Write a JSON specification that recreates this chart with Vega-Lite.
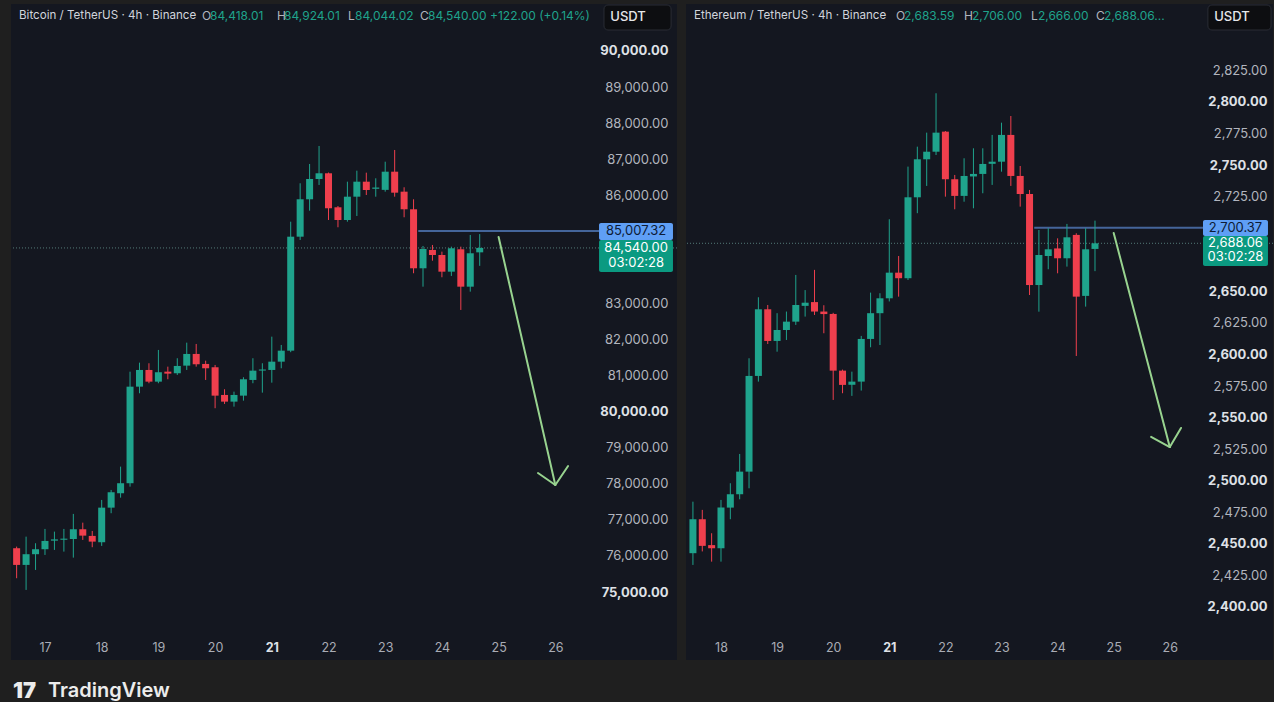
{
"$schema": "https://vega.github.io/schema/vega-lite/v6.json",
"background": "#1f1f1f",
"padding": {"left": 10, "top": 4, "right": 0, "bottom": 0},
"spacing": 7,
"config": {
  "view": {"fill": "#141720", "stroke": null},
  "font": "Inter",
  "scale": {"continuousPadding": 0},
  "axis": {"domain": false, "ticks": false, "tickSize": 0, "grid": false, "title": null, "labelFont": "Inter", "labelFontSize": 13, "labelColor": "#b2b5be", "labelFlush": false, "labelOverlap": false, "labelBound": false},
  "style": {
    "hdr": {"align": "left", "baseline": "middle", "fontSize": 12, "font": "Inter"},
    "lbl": {"align": "center", "baseline": "middle", "fontSize": 13, "font": "Inter"}
  }
},
"datasets": {
  "btc": [
    {"t": "2025-03-16T12:00:00Z", "o": 76215, "h": 76260, "l": 75383, "c": 75752},
    {"t": "2025-03-16T16:00:00Z", "o": 75752, "h": 76536, "l": 75059, "c": 76049},
    {"t": "2025-03-16T20:00:00Z", "o": 76049, "h": 76353, "l": 75613, "c": 76187},
    {"t": "2025-03-17T00:00:00Z", "o": 76187, "h": 76750, "l": 76029, "c": 76417},
    {"t": "2025-03-17T04:00:00Z", "o": 76425, "h": 76675, "l": 76168, "c": 76460},
    {"t": "2025-03-17T08:00:00Z", "o": 76450, "h": 76750, "l": 76121, "c": 76480},
    {"t": "2025-03-17T12:00:00Z", "o": 76470, "h": 77166, "l": 75954, "c": 76741},
    {"t": "2025-03-17T16:00:00Z", "o": 76741, "h": 76924, "l": 76445, "c": 76564},
    {"t": "2025-03-17T20:00:00Z", "o": 76556, "h": 76694, "l": 76243, "c": 76398},
    {"t": "2025-03-18T00:00:00Z", "o": 76381, "h": 77554, "l": 76279, "c": 77340},
    {"t": "2025-03-18T04:00:00Z", "o": 77340, "h": 77831, "l": 77185, "c": 77767},
    {"t": "2025-03-18T08:00:00Z", "o": 77739, "h": 78477, "l": 77617, "c": 78017},
    {"t": "2025-03-18T12:00:00Z", "o": 78017, "h": 81110, "l": 77922, "c": 80694},
    {"t": "2025-03-18T16:00:00Z", "o": 80694, "h": 81360, "l": 80511, "c": 81157},
    {"t": "2025-03-18T20:00:00Z", "o": 81157, "h": 81343, "l": 80789, "c": 80833},
    {"t": "2025-03-19T00:00:00Z", "o": 80833, "h": 81712, "l": 80789, "c": 81094},
    {"t": "2025-03-19T04:00:00Z", "o": 81110, "h": 81249, "l": 80899, "c": 81055},
    {"t": "2025-03-19T08:00:00Z", "o": 81066, "h": 81482, "l": 81019, "c": 81268},
    {"t": "2025-03-19T12:00:00Z", "o": 81277, "h": 81914, "l": 81157, "c": 81601},
    {"t": "2025-03-19T16:00:00Z", "o": 81601, "h": 81878, "l": 81249, "c": 81315},
    {"t": "2025-03-19T20:00:00Z", "o": 81324, "h": 81415, "l": 80880, "c": 81204},
    {"t": "2025-03-20T00:00:00Z", "o": 81232, "h": 81296, "l": 80096, "c": 80445},
    {"t": "2025-03-20T04:00:00Z", "o": 80464, "h": 80622, "l": 80215, "c": 80279},
    {"t": "2025-03-20T08:00:00Z", "o": 80279, "h": 80556, "l": 80140, "c": 80464},
    {"t": "2025-03-20T12:00:00Z", "o": 80445, "h": 80955, "l": 80306, "c": 80899},
    {"t": "2025-03-20T16:00:00Z", "o": 80880, "h": 81482, "l": 80789, "c": 81138},
    {"t": "2025-03-20T20:00:00Z", "o": 81140, "h": 81343, "l": 80528, "c": 81170},
    {"t": "2025-03-21T00:00:00Z", "o": 81157, "h": 82080, "l": 80805, "c": 81387},
    {"t": "2025-03-21T04:00:00Z", "o": 81387, "h": 81850, "l": 81204, "c": 81692},
    {"t": "2025-03-21T08:00:00Z", "o": 81692, "h": 85268, "l": 81650, "c": 84852},
    {"t": "2025-03-21T12:00:00Z", "o": 84852, "h": 86333, "l": 84761, "c": 85889},
    {"t": "2025-03-21T16:00:00Z", "o": 85889, "h": 86868, "l": 85573, "c": 86452},
    {"t": "2025-03-21T20:00:00Z", "o": 86452, "h": 87367, "l": 86286, "c": 86610},
    {"t": "2025-03-22T00:00:00Z", "o": 86610, "h": 86630, "l": 85315, "c": 85640},
    {"t": "2025-03-22T04:00:00Z", "o": 85667, "h": 85703, "l": 85113, "c": 85315},
    {"t": "2025-03-22T08:00:00Z", "o": 85315, "h": 86377, "l": 85268, "c": 85961},
    {"t": "2025-03-22T12:00:00Z", "o": 85961, "h": 86682, "l": 85426, "c": 86377},
    {"t": "2025-03-22T16:00:00Z", "o": 86377, "h": 86627, "l": 86008, "c": 86147},
    {"t": "2025-03-22T20:00:00Z", "o": 86180, "h": 86471, "l": 85961, "c": 86215},
    {"t": "2025-03-23T00:00:00Z", "o": 86150, "h": 86931, "l": 86100, "c": 86654},
    {"t": "2025-03-23T04:00:00Z", "o": 86654, "h": 87256, "l": 85961, "c": 86072},
    {"t": "2025-03-23T08:00:00Z", "o": 86100, "h": 86222, "l": 85390, "c": 85612},
    {"t": "2025-03-23T12:00:00Z", "o": 85612, "h": 85889, "l": 83838, "c": 83976},
    {"t": "2025-03-23T16:00:00Z", "o": 83976, "h": 84595, "l": 83466, "c": 84511},
    {"t": "2025-03-23T20:00:00Z", "o": 84484, "h": 84622, "l": 84187, "c": 84345},
    {"t": "2025-03-24T00:00:00Z", "o": 84345, "h": 84437, "l": 83727, "c": 83882},
    {"t": "2025-03-24T04:00:00Z", "o": 83882, "h": 84576, "l": 83763, "c": 84531},
    {"t": "2025-03-24T08:00:00Z", "o": 84503, "h": 84576, "l": 82821, "c": 83466},
    {"t": "2025-03-24T12:00:00Z", "o": 83466, "h": 84900, "l": 83328, "c": 84392},
    {"t": "2025-03-24T16:00:00Z", "o": 84418.01, "h": 84924.01, "l": 84044.02, "c": 84540.00}
  ],
  "eth": [
    {"t": "2025-03-17T12:00:00Z", "o": 2442.6, "h": 2483.4, "l": 2433.3, "c": 2469.5},
    {"t": "2025-03-17T16:00:00Z", "o": 2469.5, "h": 2476.9, "l": 2444.0, "c": 2448.4},
    {"t": "2025-03-17T20:00:00Z", "o": 2449.0, "h": 2458.4, "l": 2435.9, "c": 2446.5},
    {"t": "2025-03-18T00:00:00Z", "o": 2446.5, "h": 2484.8, "l": 2435.9, "c": 2478.7},
    {"t": "2025-03-18T04:00:00Z", "o": 2478.7, "h": 2498.0, "l": 2469.5, "c": 2489.3},
    {"t": "2025-03-18T08:00:00Z", "o": 2489.3, "h": 2521.2, "l": 2485.3, "c": 2507.2},
    {"t": "2025-03-18T12:00:00Z", "o": 2507.2, "h": 2597.0, "l": 2494.0, "c": 2583.0},
    {"t": "2025-03-18T16:00:00Z", "o": 2583.0, "h": 2645.3, "l": 2578.5, "c": 2635.8},
    {"t": "2025-03-18T20:00:00Z", "o": 2635.8, "h": 2639.2, "l": 2608.3, "c": 2610.7},
    {"t": "2025-03-19T00:00:00Z", "o": 2610.7, "h": 2632.7, "l": 2602.2, "c": 2619.4},
    {"t": "2025-03-19T04:00:00Z", "o": 2619.4, "h": 2634.0, "l": 2611.5, "c": 2626.0},
    {"t": "2025-03-19T08:00:00Z", "o": 2626.0, "h": 2663.0, "l": 2623.4, "c": 2639.2},
    {"t": "2025-03-19T12:00:00Z", "o": 2638.5, "h": 2651.0, "l": 2630.0, "c": 2641.0},
    {"t": "2025-03-19T16:00:00Z", "o": 2641.5, "h": 2667.0, "l": 2631.3, "c": 2634.0},
    {"t": "2025-03-19T20:00:00Z", "o": 2634.0, "h": 2639.0, "l": 2616.8, "c": 2632.0},
    {"t": "2025-03-20T00:00:00Z", "o": 2632.1, "h": 2633.0, "l": 2564.0, "c": 2587.2},
    {"t": "2025-03-20T04:00:00Z", "o": 2587.2, "h": 2588.0, "l": 2569.3, "c": 2575.9},
    {"t": "2025-03-20T08:00:00Z", "o": 2576.0, "h": 2586.4, "l": 2567.2, "c": 2578.5},
    {"t": "2025-03-20T12:00:00Z", "o": 2578.5, "h": 2614.7, "l": 2571.4, "c": 2612.3},
    {"t": "2025-03-20T16:00:00Z", "o": 2612.3, "h": 2649.0, "l": 2605.7, "c": 2632.7},
    {"t": "2025-03-20T20:00:00Z", "o": 2632.7, "h": 2648.5, "l": 2607.5, "c": 2644.5},
    {"t": "2025-03-21T00:00:00Z", "o": 2644.5, "h": 2707.1, "l": 2642.0, "c": 2664.8},
    {"t": "2025-03-21T04:00:00Z", "o": 2664.8, "h": 2678.0, "l": 2645.8, "c": 2660.4},
    {"t": "2025-03-21T08:00:00Z", "o": 2660.4, "h": 2748.8, "l": 2659.0, "c": 2724.5},
    {"t": "2025-03-21T12:00:00Z", "o": 2724.5, "h": 2764.6, "l": 2711.9, "c": 2754.6},
    {"t": "2025-03-21T16:00:00Z", "o": 2754.6, "h": 2775.7, "l": 2733.5, "c": 2760.6},
    {"t": "2025-03-21T20:00:00Z", "o": 2760.6, "h": 2806.9, "l": 2758.0, "c": 2775.7},
    {"t": "2025-03-22T00:00:00Z", "o": 2776.5, "h": 2777.0, "l": 2725.0, "c": 2738.8},
    {"t": "2025-03-22T04:00:00Z", "o": 2738.8, "h": 2742.2, "l": 2715.0, "c": 2725.6},
    {"t": "2025-03-22T08:00:00Z", "o": 2725.6, "h": 2755.4, "l": 2721.0, "c": 2741.4},
    {"t": "2025-03-22T12:00:00Z", "o": 2741.0, "h": 2763.3, "l": 2715.8, "c": 2743.0},
    {"t": "2025-03-22T16:00:00Z", "o": 2743.0, "h": 2763.3, "l": 2727.7, "c": 2750.9},
    {"t": "2025-03-22T20:00:00Z", "o": 2751.0, "h": 2773.9, "l": 2734.3, "c": 2752.7},
    {"t": "2025-03-23T00:00:00Z", "o": 2752.7, "h": 2783.6, "l": 2744.8, "c": 2773.9},
    {"t": "2025-03-23T04:00:00Z", "o": 2773.9, "h": 2788.9, "l": 2733.5, "c": 2741.4},
    {"t": "2025-03-23T08:00:00Z", "o": 2741.4, "h": 2749.3, "l": 2717.1, "c": 2727.1},
    {"t": "2025-03-23T12:00:00Z", "o": 2727.1, "h": 2730.3, "l": 2647.1, "c": 2655.0},
    {"t": "2025-03-23T16:00:00Z", "o": 2655.0, "h": 2698.6, "l": 2633.9, "c": 2678.8},
    {"t": "2025-03-23T20:00:00Z", "o": 2678.0, "h": 2700.0, "l": 2667.5, "c": 2683.3},
    {"t": "2025-03-24T00:00:00Z", "o": 2684.0, "h": 2692.0, "l": 2664.3, "c": 2676.2},
    {"t": "2025-03-24T04:00:00Z", "o": 2676.2, "h": 2703.4, "l": 2669.6, "c": 2692.8},
    {"t": "2025-03-24T08:00:00Z", "o": 2694.7, "h": 2696.0, "l": 2598.8, "c": 2645.8},
    {"t": "2025-03-24T12:00:00Z", "o": 2646.4, "h": 2700.0, "l": 2637.9, "c": 2683.3},
    {"t": "2025-03-24T16:00:00Z", "o": 2683.59, "h": 2706.00, "l": 2666.00, "c": 2688.06}
  ]
},
"hconcat": [
  {
    "width": 666, "height": 656,
    "layer": [
      {"data": {"values": [{}]}, "mark": {"type": "rule", "color": "#5f8c87", "strokeDash": [1, 2], "opacity": 0.85},
       "encoding": {"y": {"datum": 84540}}},
      {"data": {"values": [{}]}, "mark": {"type": "rule", "color": "#44659a", "strokeWidth": 2},
       "encoding": {"x": {"datum": {"year": 2025, "month": 3, "date": 23, "hours": 14, "utc": true}}, "x2": {"datum": {"year": 2025, "month": 3, "date": 26, "hours": 18, "minutes": 30, "utc": true}}, "y": {"datum": 85007.32}}},
      {"data": {"name": "btc"}, "mark": {"type": "rule", "strokeWidth": 1},
       "encoding": {
         "x": {"field": "t", "type": "temporal",
               "scale": {"type": "utc", "padding": 0, "domain": [{"year": 2025, "month": 3, "date": 16, "hours": 9, "minutes": 37, "utc": true}, {"year": 2025, "month": 3, "date": 28, "hours": 3, "minutes": 30, "utc": true}]},
               "axis": {"orient": "bottom", "labelOverlap": false, "values": [
                 {"year": 2025, "month": 3, "date": 17, "utc": true}, {"year": 2025, "month": 3, "date": 18, "utc": true}, {"year": 2025, "month": 3, "date": 19, "utc": true}, {"year": 2025, "month": 3, "date": 20, "utc": true}, {"year": 2025, "month": 3, "date": 21, "utc": true}, {"year": 2025, "month": 3, "date": 22, "utc": true}, {"year": 2025, "month": 3, "date": 23, "utc": true}, {"year": 2025, "month": 3, "date": 24, "utc": true}, {"year": 2025, "month": 3, "date": 25, "utc": true}, {"year": 2025, "month": 3, "date": 26, "utc": true}],
                 "labelExpr": "utcFormat(datum.value, '%d')", "labelBaseline": "middle", "labelPadding": -13, "labelFontSize": 12.5,
                 "labelFontWeight": {"condition": {"test": "utcdate(datum.value) == 21", "value": "bold"}, "value": "normal"},
                 "labelColor": {"condition": {"test": "utcdate(datum.value) == 21", "value": "#dfe1e6"}, "value": "#a9acb5"}}},
         "y": {"field": "l", "type": "quantitative",
               "scale": {"domain": [73116, 91303], "nice": false, "zero": false, "padding": 0},
               "axis": {"orient": "right", "labelOverlap": false, "values": [75000, 76000, 77000, 78000, 79000, 80000, 81000, 82000, 83000, 86000, 87000, 88000, 89000, 90000],
                 "format": ",.2f", "labelAlign": "right", "labelPadding": -9,
                 "labelFontWeight": {"condition": {"test": "datum.value % 5000 == 0", "value": "bold"}, "value": "normal"},
                 "labelColor": {"condition": {"test": "datum.value % 5000 == 0", "value": "#dfe1e6"}, "value": "#b2b5be"}}},
         "y2": {"field": "h"},
         "color": {"condition": {"test": "datum.c >= datum.o", "value": "#1fa38c"}, "value": "#ef3f4d"}
       }},
      {"data": {"name": "btc"}, "mark": {"type": "bar", "size": 7},
       "encoding": {
         "x": {"field": "t", "type": "temporal"},
         "y": {"field": "o", "type": "quantitative"},
         "y2": {"field": "c"},
         "color": {"condition": {"test": "datum.c >= datum.o", "value": "#1fa38c"}, "value": "#ef3f4d"}
       }},
      {"data": {"values": [{}]}, "mark": {"type": "rule", "color": "#98d38f", "strokeWidth": 2, "strokeCap": "round"},
       "encoding": {"x": {"datum": {"year": 2025, "month": 3, "date": 25, "hours": 0, "utc": true}}, "y": {"datum": 84843}, "x2": {"datum": {"year": 2025, "month": 3, "date": 26, "hours": 0, "utc": true}}, "y2": {"datum": 77968}}},
      {"data": {"values": [{}]}, "mark": {"type": "rule", "color": "#98d38f", "strokeWidth": 2, "strokeCap": "round"},
       "encoding": {"x": {"datum": {"year": 2025, "month": 3, "date": 25, "hours": 16, "minutes": 40, "utc": true}}, "y": {"datum": 78300}, "x2": {"datum": {"year": 2025, "month": 3, "date": 26, "hours": 0, "utc": true}}, "y2": {"datum": 77968}}},
      {"data": {"values": [{}]}, "mark": {"type": "rule", "color": "#98d38f", "strokeWidth": 2, "strokeCap": "round"},
       "encoding": {"x": {"datum": {"year": 2025, "month": 3, "date": 26, "hours": 5, "minutes": 24, "utc": true}}, "y": {"datum": 78495}, "x2": {"datum": {"year": 2025, "month": 3, "date": 26, "hours": 0, "utc": true}}, "y2": {"datum": 77968}}},
      {"data": {"values": [{}]}, "mark": {"type": "rect", "fill": "#5f9ff5", "cornerRadius": 2},
       "encoding": {"x": {"datum": {"year": 2025, "month": 3, "date": 26, "hours": 18, "minutes": 30, "utc": true}}, "x2": {"datum": {"year": 2025, "month": 3, "date": 28, "hours": 1, "minutes": 48, "utc": true}}, "y": {"datum": 85232}, "y2": {"datum": 84761}}},
      {"data": {"values": [{}]}, "mark": {"type": "rect", "fill": "#0b9a81", "cornerRadius": 2},
       "encoding": {"x": {"datum": {"year": 2025, "month": 3, "date": 26, "hours": 18, "minutes": 30, "utc": true}}, "x2": {"datum": {"year": 2025, "month": 3, "date": 28, "hours": 1, "minutes": 48, "utc": true}}, "y": {"datum": 84761}, "y2": {"datum": 83874}}},
      {"data": {"values": [{}]}, "mark": {"type": "text", "style": "lbl", "color": "#0d1b36", "text": "85,007.32"},
       "encoding": {"x": {"datum": {"year": 2025, "month": 3, "date": 27, "hours": 10, "minutes": 12, "utc": true}}, "y": {"datum": 85007}}},
      {"data": {"values": [{}]}, "mark": {"type": "text", "style": "lbl", "color": "#ffffff", "text": "84,540.00"},
       "encoding": {"x": {"datum": {"year": 2025, "month": 3, "date": 27, "hours": 10, "minutes": 12, "utc": true}}, "y": {"datum": 84539}}},
      {"data": {"values": [{}]}, "mark": {"type": "text", "style": "lbl", "color": "#ffffff", "text": "03:02:28"},
       "encoding": {"x": {"datum": {"year": 2025, "month": 3, "date": 27, "hours": 10, "minutes": 12, "utc": true}}, "y": {"datum": 84123}}},
      {"data": {"values": [{}]}, "mark": {"type": "rect", "fill": "#0d0e11", "stroke": "#2a2d35", "strokeWidth": 1, "cornerRadius": 4},
       "encoding": {"x": {"datum": {"year": 2025, "month": 3, "date": 26, "hours": 20, "minutes": 36, "utc": true}}, "x2": {"datum": {"year": 2025, "month": 3, "date": 28, "hours": 1, "minutes": 0, "utc": true}}, "y": {"datum": 91275}, "y2": {"datum": 90582}}},
      {"data": {"values": [{}]}, "mark": {"type": "text", "style": "lbl", "color": "#e6e7ea", "fontWeight": 500, "text": "USDT"},
       "encoding": {"x": {"datum": {"year": 2025, "month": 3, "date": 27, "hours": 6, "minutes": 48, "utc": true}}, "y": {"datum": 90930}}},
      {"data": {"values": [{}]}, "mark": {"type": "text", "style": "hdr", "fontSize": 11.6, "color": "#d1d4dc", "text": "Bitcoin / TetherUS · 4h · Binance"},
       "encoding": {"x": {"datum": {"year": 2025, "month": 3, "date": 16, "hours": 13, "utc": true}}, "y": {"datum": 90970}}},
      {"data": {"values": [{}]}, "mark": {"type": "text", "style": "hdr", "color": "#b2b5be", "text": "O"},
       "encoding": {"x": {"datum": {"year": 2025, "month": 3, "date": 19, "hours": 18, "minutes": 27, "utc": true}}, "y": {"datum": 90970}}},
      {"data": {"values": [{}]}, "mark": {"type": "text", "style": "hdr", "color": "#1fa38c", "text": "84,418.01"},
       "encoding": {"x": {"datum": {"year": 2025, "month": 3, "date": 19, "hours": 21, "minutes": 50, "utc": true}}, "y": {"datum": 90970}}},
      {"data": {"values": [{}]}, "mark": {"type": "text", "style": "hdr", "color": "#b2b5be", "text": "H"},
       "encoding": {"x": {"datum": {"year": 2025, "month": 3, "date": 21, "hours": 2, "minutes": 12, "utc": true}}, "y": {"datum": 90970}}},
      {"data": {"values": [{}]}, "mark": {"type": "text", "style": "hdr", "color": "#1fa38c", "text": "84,924.01"},
       "encoding": {"x": {"datum": {"year": 2025, "month": 3, "date": 21, "hours": 5, "minutes": 12, "utc": true}}, "y": {"datum": 90970}}},
      {"data": {"values": [{}]}, "mark": {"type": "text", "style": "hdr", "color": "#b2b5be", "text": "L"},
       "encoding": {"x": {"datum": {"year": 2025, "month": 3, "date": 22, "hours": 8, "minutes": 15, "utc": true}}, "y": {"datum": 90970}}},
      {"data": {"values": [{}]}, "mark": {"type": "text", "style": "hdr", "color": "#1fa38c", "text": "84,044.02"},
       "encoding": {"x": {"datum": {"year": 2025, "month": 3, "date": 22, "hours": 11, "minutes": 12, "utc": true}}, "y": {"datum": 90970}}},
      {"data": {"values": [{}]}, "mark": {"type": "text", "style": "hdr", "color": "#b2b5be", "text": "C"},
       "encoding": {"x": {"datum": {"year": 2025, "month": 3, "date": 23, "hours": 14, "minutes": 44, "utc": true}}, "y": {"datum": 90970}}},
      {"data": {"values": [{}]}, "mark": {"type": "text", "style": "hdr", "color": "#1fa38c", "text": "84,540.00 +122.00 (+0.14%)"},
       "encoding": {"x": {"datum": {"year": 2025, "month": 3, "date": 23, "hours": 18, "minutes": 7, "utc": true}}, "y": {"datum": 90970}}},
      {"data": {"values": [{}]}, "mark": {"type": "text", "align": "left", "baseline": "middle", "fontSize": 22, "fontWeight": 900, "font": "Inter", "color": "#ececec", "text": "17"},
       "encoding": {"x": {"datum": {"year": 2025, "month": 3, "date": 16, "hours": 10, "minutes": 28, "utc": true}}, "y": {"datum": 72259}}},
      {"data": {"values": [{}]}, "mark": {"type": "text", "align": "left", "baseline": "middle", "fontSize": 20, "fontWeight": 600, "font": "Inter", "color": "#ececec", "text": "TradingView"},
       "encoding": {"x": {"datum": {"year": 2025, "month": 3, "date": 17, "hours": 1, "minutes": 16, "utc": true}}, "y": {"datum": 72259}}}
    ]
  },
  {
    "width": 587, "height": 656,
    "layer": [
      {"data": {"values": [{}]}, "mark": {"type": "rule", "color": "#5f8c87", "strokeDash": [1, 2], "opacity": 0.85},
       "encoding": {"y": {"datum": 2688.06}}},
      {"data": {"values": [{}]}, "mark": {"type": "rule", "color": "#44659a", "strokeWidth": 2},
       "encoding": {"x": {"datum": {"year": 2025, "month": 3, "date": 23, "hours": 14, "utc": true}}, "x2": {"datum": {"year": 2025, "month": 3, "date": 26, "hours": 14, "minutes": 12, "utc": true}}, "y": {"datum": 2700.37}}},
      {"data": {"name": "eth"}, "mark": {"type": "rule", "strokeWidth": 1},
       "encoding": {
         "x": {"field": "t", "type": "temporal",
               "scale": {"type": "utc", "padding": 0, "domain": [{"year": 2025, "month": 3, "date": 17, "hours": 9, "minutes": 2, "utc": true}, {"year": 2025, "month": 3, "date": 27, "hours": 20, "minutes": 9, "utc": true}]},
               "axis": {"orient": "bottom", "labelOverlap": false, "values": [
                 {"year": 2025, "month": 3, "date": 18, "utc": true}, {"year": 2025, "month": 3, "date": 19, "utc": true}, {"year": 2025, "month": 3, "date": 20, "utc": true}, {"year": 2025, "month": 3, "date": 21, "utc": true}, {"year": 2025, "month": 3, "date": 22, "utc": true}, {"year": 2025, "month": 3, "date": 23, "utc": true}, {"year": 2025, "month": 3, "date": 24, "utc": true}, {"year": 2025, "month": 3, "date": 25, "utc": true}, {"year": 2025, "month": 3, "date": 26, "utc": true}],
                 "labelExpr": "utcFormat(datum.value, '%d')", "labelBaseline": "middle", "labelPadding": -13, "labelFontSize": 12.5,
                 "labelFontWeight": {"condition": {"test": "utcdate(datum.value) == 21", "value": "bold"}, "value": "normal"},
                 "labelColor": {"condition": {"test": "utcdate(datum.value) == 21", "value": "#dfe1e6"}, "value": "#a9acb5"}}},
         "y": {"field": "l", "type": "quantitative",
               "scale": {"domain": [2358.0, 2877.6], "nice": false, "zero": false, "padding": 0},
               "axis": {"orient": "right", "labelOverlap": false, "values": [2400, 2425, 2450, 2475, 2500, 2525, 2550, 2575, 2600, 2625, 2650, 2725, 2750, 2775, 2800, 2825],
                 "format": ",.2f", "labelAlign": "right", "labelPadding": -6,
                 "labelFontWeight": {"condition": {"test": "datum.value % 50 == 0", "value": "bold"}, "value": "normal"},
                 "labelColor": {"condition": {"test": "datum.value % 50 == 0", "value": "#dfe1e6"}, "value": "#b2b5be"}}},
         "y2": {"field": "h"},
         "color": {"condition": {"test": "datum.c >= datum.o", "value": "#1fa38c"}, "value": "#ef3f4d"}
       }},
      {"data": {"name": "eth"}, "mark": {"type": "bar", "size": 7},
       "encoding": {
         "x": {"field": "t", "type": "temporal"},
         "y": {"field": "o", "type": "quantitative"},
         "y2": {"field": "c"},
         "color": {"condition": {"test": "datum.c >= datum.o", "value": "#1fa38c"}, "value": "#ef3f4d"}
       }},
      {"data": {"values": [{}]}, "mark": {"type": "rule", "color": "#98d38f", "strokeWidth": 2, "strokeCap": "round"},
       "encoding": {"x": {"datum": {"year": 2025, "month": 3, "date": 25, "hours": 0, "utc": true}}, "y": {"datum": 2696.2}, "x2": {"datum": {"year": 2025, "month": 3, "date": 26, "hours": 0, "utc": true}}, "y2": {"datum": 2526.7}}},
      {"data": {"values": [{}]}, "mark": {"type": "rule", "color": "#98d38f", "strokeWidth": 2, "strokeCap": "round"},
       "encoding": {"x": {"datum": {"year": 2025, "month": 3, "date": 25, "hours": 16, "utc": true}}, "y": {"datum": 2534.7}, "x2": {"datum": {"year": 2025, "month": 3, "date": 26, "hours": 0, "utc": true}}, "y2": {"datum": 2526.7}}},
      {"data": {"values": [{}]}, "mark": {"type": "rule", "color": "#98d38f", "strokeWidth": 2, "strokeCap": "round"},
       "encoding": {"x": {"datum": {"year": 2025, "month": 3, "date": 26, "hours": 4, "minutes": 48, "utc": true}}, "y": {"datum": 2541.8}, "x2": {"datum": {"year": 2025, "month": 3, "date": 26, "hours": 0, "utc": true}}, "y2": {"datum": 2526.7}}},
      {"data": {"values": [{}]}, "mark": {"type": "rect", "fill": "#5f9ff5", "cornerRadius": 2},
       "encoding": {"x": {"datum": {"year": 2025, "month": 3, "date": 26, "hours": 14, "minutes": 12, "utc": true}}, "x2": {"datum": {"year": 2025, "month": 3, "date": 27, "hours": 18, "minutes": 0, "utc": true}}, "y": {"datum": 2706.5}, "y2": {"datum": 2693.9}}},
      {"data": {"values": [{}]}, "mark": {"type": "rect", "fill": "#0b9a81", "cornerRadius": 2},
       "encoding": {"x": {"datum": {"year": 2025, "month": 3, "date": 26, "hours": 14, "minutes": 12, "utc": true}}, "x2": {"datum": {"year": 2025, "month": 3, "date": 27, "hours": 18, "minutes": 0, "utc": true}}, "y": {"datum": 2693.9}, "y2": {"datum": 2670.1}}},
      {"data": {"values": [{}]}, "mark": {"type": "text", "style": "lbl", "color": "#0d1b36", "text": "2,700.37"},
       "encoding": {"x": {"datum": {"year": 2025, "month": 3, "date": 27, "hours": 4, "minutes": 6, "utc": true}}, "y": {"datum": 2700.37}}},
      {"data": {"values": [{}]}, "mark": {"type": "text", "style": "lbl", "color": "#ffffff", "text": "2,688.06"},
       "encoding": {"x": {"datum": {"year": 2025, "month": 3, "date": 27, "hours": 4, "minutes": 6, "utc": true}}, "y": {"datum": 2688.06}}},
      {"data": {"values": [{}]}, "mark": {"type": "text", "style": "lbl", "color": "#ffffff", "text": "03:02:28"},
       "encoding": {"x": {"datum": {"year": 2025, "month": 3, "date": 27, "hours": 4, "minutes": 6, "utc": true}}, "y": {"datum": 2677.2}}},
      {"data": {"values": [{}]}, "mark": {"type": "rect", "fill": "#0d0e11", "stroke": "#2a2d35", "strokeWidth": 1, "cornerRadius": 4},
       "encoding": {"x": {"datum": {"year": 2025, "month": 3, "date": 26, "hours": 16, "minutes": 18, "utc": true}}, "x2": {"datum": {"year": 2025, "month": 3, "date": 27, "hours": 19, "minutes": 18, "utc": true}}, "y": {"datum": 2876.8}, "y2": {"datum": 2857.0}}},
      {"data": {"values": [{}]}, "mark": {"type": "text", "style": "lbl", "color": "#e6e7ea", "fontWeight": 500, "text": "USDT"},
       "encoding": {"x": {"datum": {"year": 2025, "month": 3, "date": 27, "hours": 2, "minutes": 36, "utc": true}}, "y": {"datum": 2867.3}}},
      {"data": {"values": [{}]}, "mark": {"type": "text", "style": "hdr", "fontSize": 11.6, "color": "#d1d4dc", "text": "Ethereum / TetherUS · 4h · Binance"},
       "encoding": {"x": {"datum": {"year": 2025, "month": 3, "date": 17, "hours": 12, "minutes": 27, "utc": true}}, "y": {"datum": 2868.1}}},
      {"data": {"values": [{}]}, "mark": {"type": "text", "style": "hdr", "color": "#b2b5be", "text": "O"},
       "encoding": {"x": {"datum": {"year": 2025, "month": 3, "date": 21, "hours": 2, "minutes": 54, "utc": true}}, "y": {"datum": 2868.1}}},
      {"data": {"values": [{}]}, "mark": {"type": "text", "style": "hdr", "color": "#1fa38c", "text": "2,683.59"},
       "encoding": {"x": {"datum": {"year": 2025, "month": 3, "date": 21, "hours": 6, "minutes": 18, "utc": true}}, "y": {"datum": 2868.1}}},
      {"data": {"values": [{}]}, "mark": {"type": "text", "style": "hdr", "color": "#b2b5be", "text": "H"},
       "encoding": {"x": {"datum": {"year": 2025, "month": 3, "date": 22, "hours": 8, "minutes": 0, "utc": true}}, "y": {"datum": 2868.1}}},
      {"data": {"values": [{}]}, "mark": {"type": "text", "style": "hdr", "color": "#1fa38c", "text": "2,706.00"},
       "encoding": {"x": {"datum": {"year": 2025, "month": 3, "date": 22, "hours": 11, "minutes": 24, "utc": true}}, "y": {"datum": 2868.1}}},
      {"data": {"values": [{}]}, "mark": {"type": "text", "style": "hdr", "color": "#b2b5be", "text": "L"},
       "encoding": {"x": {"datum": {"year": 2025, "month": 3, "date": 23, "hours": 12, "minutes": 36, "utc": true}}, "y": {"datum": 2868.1}}},
      {"data": {"values": [{}]}, "mark": {"type": "text", "style": "hdr", "color": "#1fa38c", "text": "2,666.00"},
       "encoding": {"x": {"datum": {"year": 2025, "month": 3, "date": 23, "hours": 15, "minutes": 36, "utc": true}}, "y": {"datum": 2868.1}}},
      {"data": {"values": [{}]}, "mark": {"type": "text", "style": "hdr", "color": "#b2b5be", "text": "C"},
       "encoding": {"x": {"datum": {"year": 2025, "month": 3, "date": 24, "hours": 16, "minutes": 24, "utc": true}}, "y": {"datum": 2868.1}}},
      {"data": {"values": [{}]}, "mark": {"type": "text", "style": "hdr", "color": "#1fa38c", "text": "2,688.06..."},
       "encoding": {"x": {"datum": {"year": 2025, "month": 3, "date": 24, "hours": 19, "minutes": 54, "utc": true}}, "y": {"datum": 2868.1}}}
    ]
  }
]
}
